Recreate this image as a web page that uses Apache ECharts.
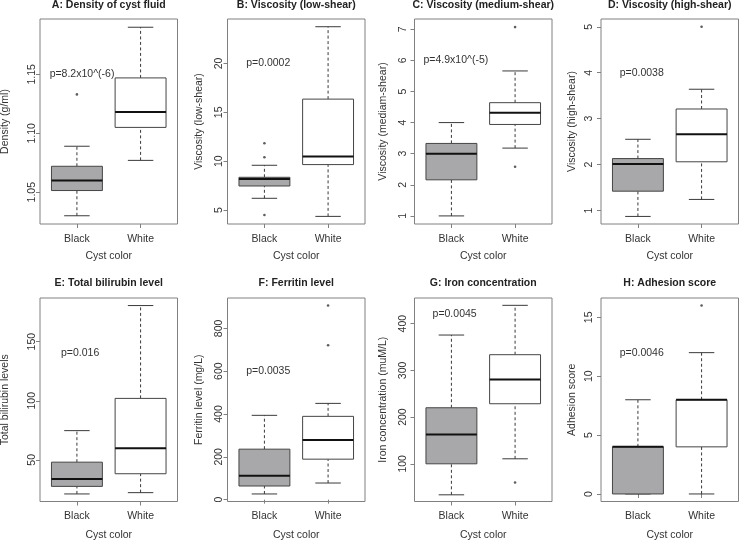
<!DOCTYPE html>
<html><head><meta charset="utf-8">
<script src="https://cdn.jsdelivr.net/npm/echarts@6/dist/echarts.min.js"></script>
<style>html,body{margin:0;padding:0;background:#fff}#c{width:740px;height:540px}</style>
</head><body><div id="c"></div>
<script>
// ---------------- data ----------------
const categories = ['Black', 'White'];
const xName = 'Cyst color';
const titles = ['A: Density of cyst fluid', 'B: Viscosity (low-shear)', 'C: Viscosity (medium-shear)', 'D: Viscosity (high-shear)',
                'E: Total bilirubin level', 'F: Ferritin level', 'G: Iron concentration', 'H: Adhesion score'];
const yNames = ['Density (g/ml)', 'Viscosity (low-shear)', 'Viscosity (mediam-shear)', 'Viscosity (high-shear)',
                'Total bilirubin levels', 'Ferritin level (mg/L)', 'Iron concentration (muM/L)', 'Adhesion score'];
const pTexts = ['p=8.2x10^(-6)', 'p=0.0002', 'p=4.9x10^(-5)', 'p=0.0038', 'p=0.016', 'p=0.0035', 'p=0.0045', 'p=0.0046'];
const pX = [1.08, 1.06, 1.07, 1.06, 1.05, 1.06, 1.05, 1.06];
const pY = [1.15, 20, 6, 4, 140, 600, 420, 12];
// [lower whisker, Q1, median, Q3, upper whisker]
const blackStats = [
  [1.030, 1.0514, 1.060, 1.072, 1.089],
  [6.2, 7.46, 8.18, 8.35, 9.58],
  [1.0, 2.16, 3.0, 3.33, 4.0],
  [0.87, 1.42, 2.01, 2.13, 2.55],
  [21.1, 27.5, 33.7, 48.0, 74.7],
  [26.4, 63.6, 111.6, 235.7, 393.8],
  [33.6, 100, 162.9, 220, 375.7],
  [0, 0, 4, 4, 8]
];
const whiteStats = [
  [1.077, 1.105, 1.118, 1.147, 1.190],
  [4.35, 9.65, 10.47, 16.35, 23.76],
  [3.18, 3.94, 4.32, 4.64, 5.66],
  [1.24, 2.06, 2.66, 3.21, 3.64],
  [22.2, 38.2, 59.8, 102, 180.6],
  [77.5, 189, 279, 389, 449.6],
  [110.7, 228.6, 280.7, 333.6, 439.3],
  [0, 4, 8, 8, 12]
];
const blackOutliers = [[1.133], [4.49, 10.4, 11.84], [], [], [], [], [], []];
const whiteOutliers = [[], [], [2.58, 7.07], [5.0], [], [721, 907], [60], [16]];
const yTicks = [
  [1.05, 1.10, 1.15], [5, 10, 15, 20], [1, 2, 3, 4, 5, 6, 7], [1, 2, 3, 4, 5],
  [50, 100, 150], [0, 200, 400, 600, 800], [100, 200, 300, 400], [0, 5, 10, 15]
];
const tickDecimals = [2, 0, 0, 0, 0, 0, 0, 0];
const yMin = [1.023, 3.57, 0.74, 0.705, 14.7, -8.8, 19.3, -0.64];
const yMax = [1.197, 24.55, 7.33, 5.17, 187, 942, 455, 16.64];
const xMin = 0.42, xMax = 2.58;

// ---------------- layout / style ----------------
const colLeft = [40, 227.5, 414.5, 601];
const plotWidth = 137.5;
const rowTop = [19, 298];
const rowHeight = [205, 203.5];
const titleTop = [0, 278];
const xLabelMargin = [9.5, 9];
const xNameGap = [27, 28];
const yLabelMargin = [2.5, 3, 5.5, 6.5];
const yNameGap = [29, 23, 26, 23];
const boxFills = ['#a8a8aa', '#ffffff'];
const FONT = 'Liberation Sans';
const FS = 10.5;
const frameColor = '#808080';
const textColor = '#333';

function renderBox(params, api) {
  const x = api.value(0);
  const p = [1, 2, 3, 4, 5].map(i => api.coord([x, api.value(i)]));
  const cx = p[0][0];
  const bw = api.size([0.8, 0])[0];
  const fill = boxFills[Math.round(x) - 1];
  const dash = { stroke: '#3a3a3a', lineWidth: 1, lineDash: [3, 2.5] };
  const solid = { stroke: '#3a3a3a', lineWidth: 1 };
  return {
    type: 'group',
    children: [
      { type: 'line', shape: { x1: cx, y1: p[0][1], x2: cx, y2: p[1][1] }, style: dash },
      { type: 'line', shape: { x1: cx, y1: p[3][1], x2: cx, y2: p[4][1] }, style: dash },
      { type: 'line', shape: { x1: cx - bw / 4, y1: p[0][1], x2: cx + bw / 4, y2: p[0][1] }, style: solid },
      { type: 'line', shape: { x1: cx - bw / 4, y1: p[4][1], x2: cx + bw / 4, y2: p[4][1] }, style: solid },
      { type: 'rect', shape: { x: cx - bw / 2, y: p[3][1], width: bw, height: p[1][1] - p[3][1] },
        style: { fill: fill, stroke: '#454545', lineWidth: 1 } },
      { type: 'line', shape: { x1: cx - bw / 2, y1: p[2][1], x2: cx + bw / 2, y2: p[2][1] },
        style: { stroke: '#111', lineWidth: 2 } }
    ]
  };
}

function renderText(params, api) {
  const pt = api.coord([api.value(0), api.value(1)]);
  return {
    type: 'text',
    style: { text: pTexts[params.seriesIndex / 3 | 0], x: pt[0], y: pt[1], align: 'center', verticalAlign: 'middle',
             fill: textColor, font: FS + 'px "' + FONT + '"' }
  };
}

const grid = [], xAxis = [], yAxis = [], series = [], title = [];
for (let i = 0; i < 8; i++) {
  const r = i < 4 ? 0 : 1, c = i % 4;
  grid.push({ left: colLeft[c], top: rowTop[r], width: plotWidth, height: rowHeight[r],
              show: true, borderColor: frameColor, borderWidth: 1, backgroundColor: 'transparent',
              containLabel: false, outerBoundsMode: 'none' });
  title.push({ text: titles[i], left: colLeft[c] + plotWidth / 2, top: titleTop[r], textAlign: 'center', padding: 0,
               textStyle: { fontFamily: FONT, fontSize: FS, fontWeight: 'bold', color: '#222' } });
  xAxis.push({
    type: 'value', gridIndex: i, min: xMin, max: xMax,
    name: xName, nameLocation: 'middle', nameGap: xNameGap[r],
    nameTextStyle: { fontFamily: FONT, fontSize: FS, color: textColor },
    axisLine: { show: false }, splitLine: { show: false },
    axisTick: { show: true, length: 4, customValues: [1, 2], lineStyle: { color: frameColor } },
    axisLabel: { show: true, customValues: [1, 2], margin: xLabelMargin[r], fontFamily: FONT, fontSize: FS, color: textColor,
                 formatter: v => categories[Math.round(v) - 1] }
  });
  yAxis.push({
    type: 'value', gridIndex: i, min: yMin[i], max: yMax[i],
    name: yNames[i], nameLocation: 'middle', nameGap: yNameGap[c],
    nameTextStyle: { fontFamily: FONT, fontSize: FS, color: textColor },
    axisLine: { show: false }, splitLine: { show: false },
    axisTick: { show: true, length: 4, customValues: yTicks[i], lineStyle: { color: frameColor } },
    axisLabel: { show: true, customValues: yTicks[i], rotate: 90, margin: yLabelMargin[c], fontFamily: FONT, fontSize: FS,
                 color: textColor, formatter: v => Number(v).toFixed(tickDecimals[i]) }
  });
  series.push({
    type: 'custom', xAxisIndex: i, yAxisIndex: i, renderItem: renderBox, silent: true,
    encode: { x: 0, y: [1, 2, 3, 4, 5] },
    data: [[1].concat(blackStats[i]), [2].concat(whiteStats[i])]
  });
  series.push({
    type: 'scatter', xAxisIndex: i, yAxisIndex: i, silent: true, symbolSize: 2.6,
    itemStyle: { color: '#333' },
    data: blackOutliers[i].map(v => [1, v]).concat(whiteOutliers[i].map(v => [2, v]))
  });
  series.push({
    type: 'custom', xAxisIndex: i, yAxisIndex: i, renderItem: renderText, silent: true,
    encode: { x: 0, y: 1 },
    data: [[pX[i], pY[i]]]
  });
}

const chart = echarts.init(document.getElementById('c'), null, { renderer: 'canvas' });
chart.setOption({
  backgroundColor: '#ffffff',
  animation: false,
  textStyle: { fontFamily: FONT },
  title, grid, xAxis, yAxis, series
});
</script>
</body></html>
